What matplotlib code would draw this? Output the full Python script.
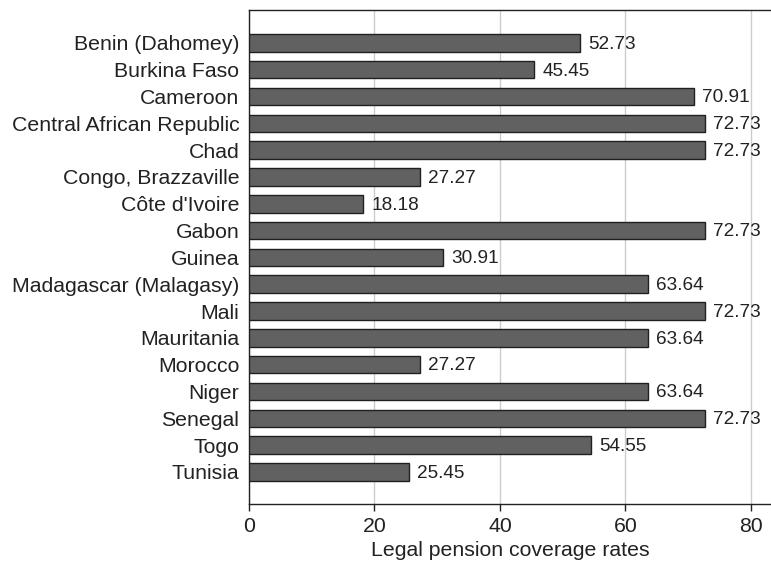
import numpy as np
import matplotlib
matplotlib.use("Agg")
import matplotlib.pyplot as plt

plt.rcParams['font.family'] = ['Liberation Sans', 'DejaVu Sans']

countries = ["Benin (Dahomey)", "Burkina Faso", "Cameroon", "Central African Republic",
             "Chad", "Congo, Brazzaville", "Côte d'Ivoire", "Gabon", "Guinea",
             "Madagascar (Malagasy)", "Mali", "Mauritania", "Morocco", "Niger",
             "Senegal", "Togo", "Tunisia"]
rates = [52.73, 45.45, 70.91, 72.73, 72.73, 27.27, 18.18, 72.73, 30.91,
         63.64, 72.73, 63.64, 27.27, 63.64, 72.73, 54.55, 25.45]
xticks = [0, 20, 40, 60, 80]

fig = plt.figure(figsize=(7.71, 5.64), dpi=100)
ax = fig.add_axes([249/771, 1-504/564, 522/771, 494/564])

ypos = np.arange(len(countries))
ax.barh(ypos, rates, height=0.65, color='#616161', edgecolor='#202020', linewidth=1.0, zorder=3)
for y, v in zip(ypos, rates):
    ax.text(v + 1.3, y + 0.05, f"{v:.2f}", va='center', ha='left', fontsize=13.7, color='#222222')

ax.set_xlim(0, 83.2)
ax.set_ylim(17.2, -1.23)
ax.set_xticks(xticks)
ax.set_yticks(ypos)
ax.set_yticklabels(countries)
ax.tick_params(axis='y', length=0, pad=7, labelsize=15.3, colors='#222222')
ax.tick_params(axis='x', length=5, width=1, pad=4, labelsize=15.3, colors='#222222')
ax.xaxis.grid(True, color='#cccccc', linewidth=1.0, zorder=0)
ax.set_axisbelow(True)
ax.spines['right'].set_visible(False)
for s in ['left', 'bottom', 'top']:
    ax.spines[s].set_linewidth(1.0)
    ax.spines[s].set_color('#222222')
ax.set_xlabel("Legal pension coverage rates", fontsize=15.3, color='#222222', labelpad=4)

fig.savefig("out.png", dpi=100)
